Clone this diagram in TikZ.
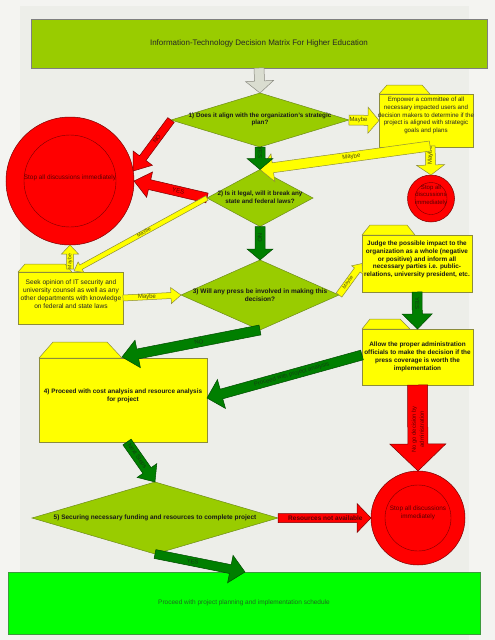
\documentclass[tikz,border=0pt]{standalone}
\usepackage{fontspec}
\setmainfont{Liberation Sans}
\usetikzlibrary{calc,shapes.geometric}
\definecolor{bgc}{HTML}{EDEEE9}
\definecolor{bgr}{HTML}{F4F4F1}
\definecolor{olivef}{HTML}{99CC00}
\definecolor{olived}{HTML}{6E8C1A}
\definecolor{titled}{HTML}{7F7F7F}
\definecolor{yelf}{HTML}{FFFF00}
\definecolor{yeld}{HTML}{8C8C3C}
\definecolor{dgf}{HTML}{007F00}
\definecolor{dgd}{HTML}{004C00}
\definecolor{redf}{HTML}{FF0000}
\definecolor{redd}{HTML}{7A0000}
\definecolor{bgf}{HTML}{00FF00}
\definecolor{bgd}{HTML}{3C9A3C}
\definecolor{grayf}{HTML}{DADDD0}
\definecolor{grayd}{HTML}{8A8A80}
\definecolor{redtxt}{HTML}{5A0000}
\definecolor{grntxt}{HTML}{123F12}
\definecolor{yeltxt}{HTML}{4A4A10}
\definecolor{fintxt}{HTML}{1E6A1E}
\newcommand\fntitle{\fontsize{8}{9.6}\selectfont}
\newcommand\fnbox{\fontsize{6.6}{7.8}\selectfont}
\newcommand\fnbold{\fontsize{6.4}{7.8}\selectfont\bfseries}
\newcommand\fnlab{\fontsize{6}{7}\selectfont}
\newcommand\fnsmall{\fontsize{5}{6}\selectfont}
\newcommand\fncirc{\fontsize{6.4}{7.6}\selectfont}
% #1 name, #2 style, #3 from, #4 to, #5 shaft half width, #6 head half width, #7 head length, #8 label options, #9 label
\newcommand\blockarr[9]{%
  \coordinate (#1h) at ($(#4)!#7!(#3)$);
  \path[#2] ($(#3)!#5!90:(#4)$) -- ($(#1h)!#5!90:(#4)$) -- ($(#1h)!#6!90:(#4)$) -- (#4)
     -- ($(#1h)!#6!-90:(#4)$) -- ($(#1h)!#5!-90:(#4)$) -- ($(#3)!#5!-90:(#4)$) -- cycle;
  \path (#3) -- (#1h) node[pos=0.5, #8] (#1l) {#9};
}
\begin{document}
\begin{tikzpicture}[x=1pt,y=-1pt,
  diam/.style={diamond, draw=olived, fill=olivef, inner sep=0pt, outer sep=0pt, line width=0.5pt},
  fbody/.style={draw=yeld, fill=yelf, inner sep=0pt, outer sep=0pt, line width=0.5pt},
  ftab/.style={draw=yeld, fill=yelf, line width=0.5pt, line join=round},
  rcirc/.style={circle, draw=redd, fill=redf, inner sep=0pt, outer sep=0pt, line width=0.5pt},
  yarr/.style={draw=yeld, fill=yelf, line width=0.5pt},
  garr/.style={draw=dgd, fill=dgf, line width=0.5pt},
  rarr/.style={draw=redd, fill=redf, line width=0.5pt},
  grarr/.style={draw=grayd, fill=grayf, line width=0.5pt},
  ylab/.style={font=\fnlab, text=yeltxt, inner sep=0pt},
  glab/.style={font=\fnlab, text=grntxt, inner sep=0pt},
  rlab/.style={font=\fnlab, text=redtxt, inner sep=0pt},
  dtext/.style={font=\fnbold, align=center, inner sep=0pt, text=black!90},
  btext/.style={font=\fnbox, align=center, inner sep=0pt, text=black!85},
  ctext/.style={font=\fncirc, align=center, inner sep=0pt, text=redtxt},
]
\useasboundingbox (0,0) rectangle (495,640);
\fill[bgr] (0,0) rectangle (495,640);
\fill[bgc] (20,6) rectangle (469,640);

% title
\node[draw=titled, fill=olivef, minimum width=456pt, minimum height=49pt, inner sep=0pt, outer sep=0pt, font=\fntitle, text=black!85] (title) at (259,43.5) {Information-Technology Decision Matrix For Higher Education};

% diamonds
\node[diam, minimum width=178pt, minimum height=54pt] (d1) at (260,120) {};
\node[dtext, font=\fontsize{6.3}{7.2}\selectfont\bfseries] (d1t) at (260,119.5) {1) Does it align with the organization's strategic\\plan?};
\node[diam, minimum width=106pt, minimum height=57pt] (d2) at (260,198) {};
\node[dtext, font=\fontsize{6.3}{8.4}\selectfont\bfseries] (d2t) at (260,197.5) {2) Is it legal, will it break any\\state and federal laws?};
\node[diam, minimum width=158pt, minimum height=70pt] (d3) at (260,295) {};
\node[dtext, font=\fontsize{6.5}{7.4}\selectfont\bfseries] (d3t) at (260,295) {3) Will any press be involved in making this\\decision?};
\node[diam, minimum width=246pt, minimum height=72pt] (d5) at (155,518) {};
\node[dtext, font=\fontsize{6.5}{7.4}\selectfont\bfseries] (d5t) at (155,517.5) {5) Securing necessary funding and resources to complete project};

% folder boxes
\draw[ftab] (379,94) -- (387,85) -- (422,85) -- (430,94) -- cycle;
\node[fbody, minimum width=94pt, minimum height=53pt] (emp) at (426,120.5) {};
\node[btext, font=\fontsize{6.2}{7.8}\selectfont] (empt) at (426,115.5) {Empower a committee of all\\necessary impacted users and\\decision makers to determine if the\\project is aligned with strategic\\goals and plans};

\draw[ftab] (18,272) -- (25,264) -- (65,264) -- (72,272) -- cycle;
\node[fbody, minimum width=105pt, minimum height=52pt] (seek) at (70.5,298) {};
\node[btext] (seekt) at (71,294) {Seek opinion of IT security and\\university counsel as well as any\\other departments with knowledge\\on federal and state laws};

\draw[ftab] (362,235) -- (370,225) -- (407,225) -- (415,235) -- cycle;
\node[fbody, minimum width=110pt, minimum height=57pt] (judge) at (417,263.5) {};
\node[dtext] (judget) at (417,259.5) {Judge the possible impact to the\\organization as a whole (negative\\or positive) and inform all\\necessary parties i.e. public-\\relations, university president, etc.};

\draw[ftab] (362,329) -- (370,319) -- (400,319) -- (410,329) -- cycle;
\node[fbody, minimum width=111pt, minimum height=56pt] (allow) at (417.5,357) {};
\node[dtext] (allowt) at (417.5,357) {Allow the proper administration\\officials to make the decision if the\\press coverage is worth the\\implementation};

\draw[ftab] (39,358) -- (53,342) -- (107,342) -- (122,358) -- cycle;
\node[fbody, minimum width=168pt, minimum height=84pt] (n4) at (123,400) {};
\node[dtext] (n4txt) at (123,396) {4) Proceed with cost analysis and resource analysis\\for project};

% red circles
\node[rcirc, minimum size=128pt] (bc) at (70,181) {};
\draw[redd, line width=0.4pt] (bc.center) circle[radius=46pt];
\node[ctext] (bct) at (70,178) {Stop all discussions immediately};

\node[rcirc, minimum size=47pt] (sc) at (431,198.5) {};
\draw[redd, line width=0.4pt] (sc.center) circle[radius=16pt];
\node[ctext, font=\fontsize{6}{7.5}\selectfont] (sct) at (431,195) {Stop all\\discussions\\immediately};

\node[rcirc, minimum size=94pt] (bc2) at (418,518) {};
\draw[redd, line width=0.4pt] (bc2.center) circle[radius=33pt];
\node[ctext] (bc2t) at (418,513) {Stop all discussions\\immediately};

% final box
\node[draw=bgd, fill=bgf, minimum width=472pt, minimum height=62pt, inner sep=0pt, outer sep=0pt, font=\fontsize{6.5}{8}\selectfont, text=fintxt] (fin) at (244,603) {Proceed with project planning and implementation schedule};

% helper coordinates
\coordinate (eo) at (430,146);
\coordinate (sk) at (74,271);
\coordinate (su) at (70,269);
\coordinate (alw) at ([yshift=2pt]allow.west);
\coordinate (n4e) at ([yshift=2pt]n4.east);
\coordinate (n4t) at (122,357);
\coordinate (n4s) at (127,442);
\coordinate (fint) at ([xshift=1pt]fin.north);

% arrows
\blockarr{a1}{grarr}{title.south}{d1.north}{5pt}{14pt}{12pt}{coordinate}{}
\blockarr{a2}{yarr}{d1.east}{emp.west}{5pt}{13pt}{11pt}{ylab}{Maybe}
\blockarr{a4}{yarr}{eo}{sc.north}{5pt}{14pt}{10pt}{ylab,rotate=90}{Maybe}
\blockarr{a3}{yarr}{eo}{d2.north}{5pt}{14pt}{13pt}{ylab,sloped}{Maybe}
\blockarr{a5}{rarr}{d1.west}{bc.9}{4pt}{12pt}{16pt}{rlab,sloped}{NO}
\blockarr{a6}{rarr}{d2.west}{bc.0}{5pt}{13pt}{16pt}{rlab,sloped}{YES}
\blockarr{a9}{yarr}{d2.west}{sk}{2.5pt}{6pt}{8pt}{ylab,sloped,font=\fnsmall}{Maybe}
\blockarr{a10}{yarr}{su}{bc.south}{3.5pt}{8.5pt}{9pt}{ylab,rotate=90,font=\fnsmall}{Maybe}
\blockarr{a7}{garr}{d1.south}{d2.north}{5pt}{13pt}{11pt}{glab,rotate=-90}{YES}
\blockarr{a8}{garr}{d2.south}{d3.north}{5pt}{13pt}{11pt}{glab,rotate=-90}{NO}
\blockarr{a11}{yarr}{seek.east}{d3.west}{3pt}{8pt}{10pt}{ylab,sloped}{Maybe}
\blockarr{a12}{yarr}{d3.east}{judge.west}{3.5pt}{7pt}{8pt}{ylab,sloped,font=\fnsmall}{Maybe}
\blockarr{a13}{garr}{judge.south}{allow.north}{5pt}{15pt}{15pt}{glab,rotate=-90}{YES}
\blockarr{a14}{rarr}{allow.south}{bc2.north}{10pt}{28pt}{27pt}{rlab,rotate=90,align=center,pos=0.75,font=\fontsize{5.8}{8}\selectfont}{No go decision by\\administration}
\blockarr{a15}{garr}{alw}{n4e}{5pt}{15pt}{15pt}{glab,sloped}{Proceed with project analysis}
\blockarr{a16}{garr}{d3.south}{n4t}{5pt}{14pt}{16pt}{glab,sloped}{NO}
\blockarr{a17}{garr}{n4s}{d5.north}{5pt}{12pt}{14pt}{glab,sloped}{Next Steps}
\blockarr{a18}{rarr}{d5.east}{bc2.west}{4.5pt}{14.5pt}{14pt}{rlab,pos=0.6,font=\fontsize{6.5}{7}\selectfont\bfseries}{Resources not available}
\blockarr{a19}{garr}{d5.south}{fint}{4.5pt}{14pt}{15pt}{glab,sloped}{YES}
\end{tikzpicture}
\end{document}
